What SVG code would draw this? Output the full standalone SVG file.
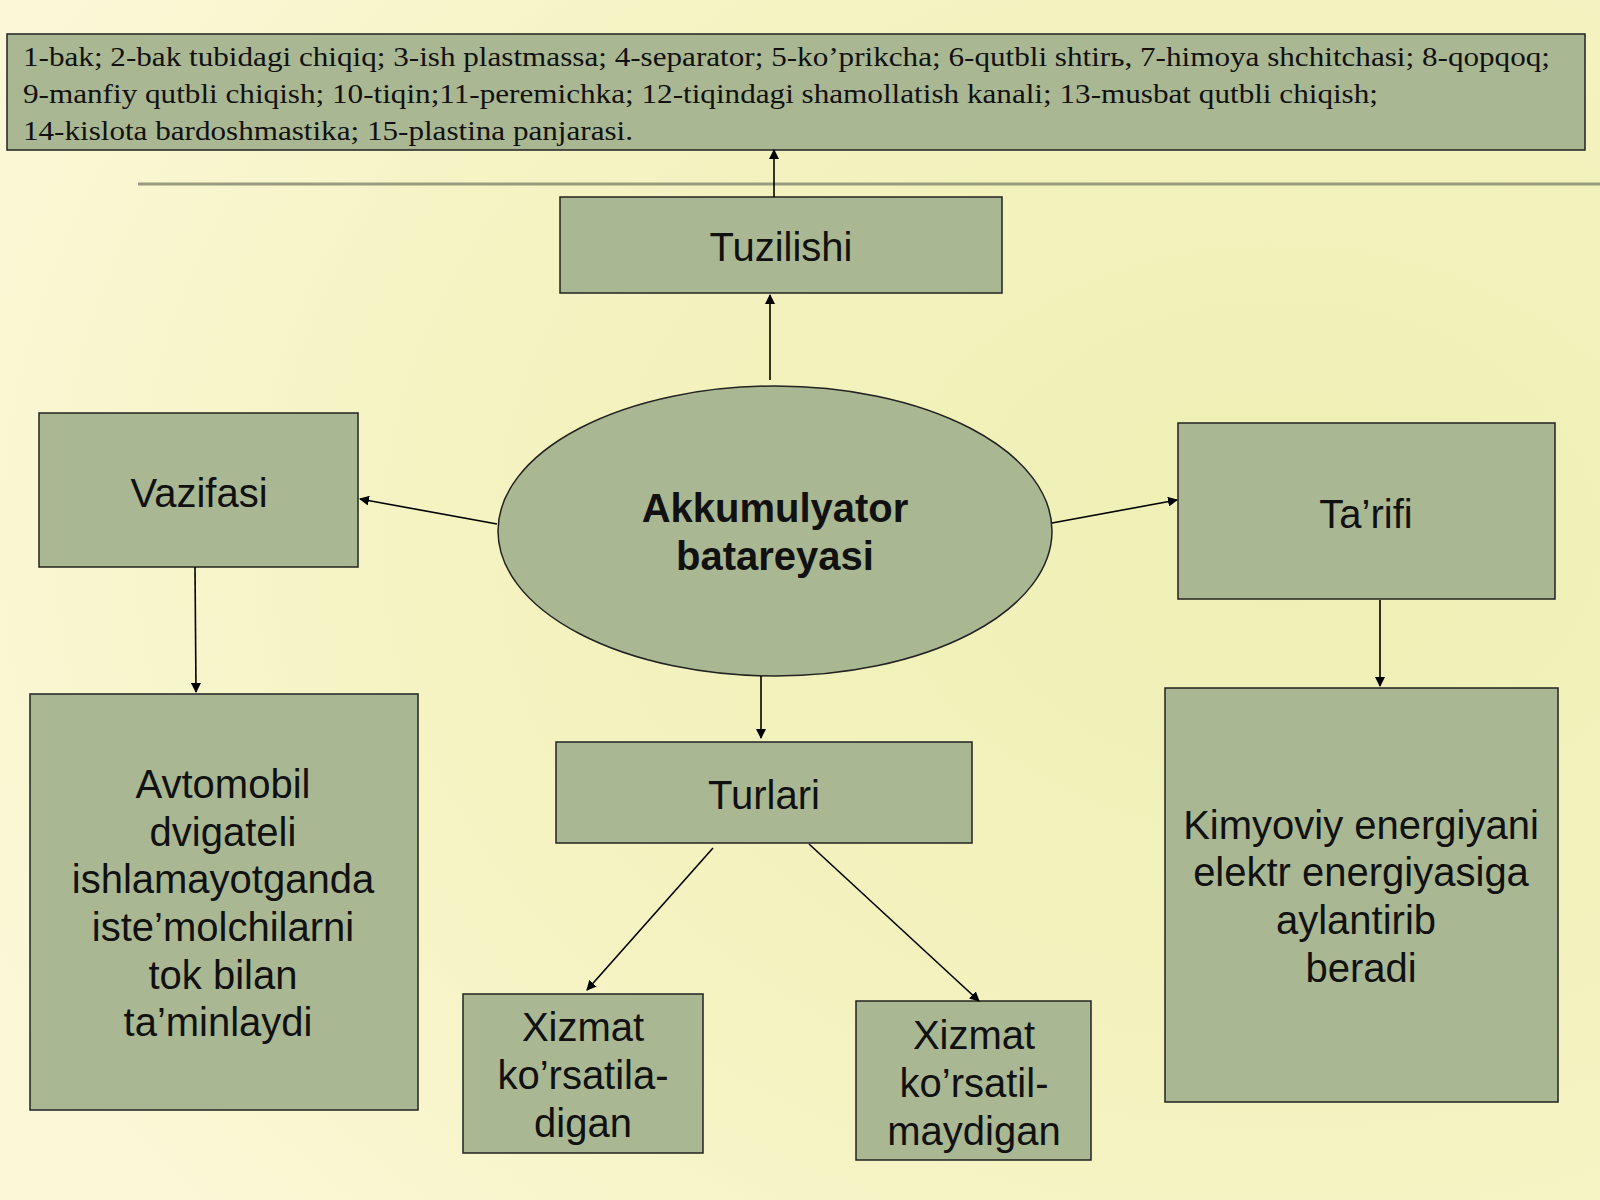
<svg xmlns="http://www.w3.org/2000/svg" width="1600" height="1200" viewBox="0 0 1600 1200">
<defs>
<radialGradient id="bg" cx="0.8" cy="0.45" r="0.9">
<stop offset="0" stop-color="#eef0b4"/><stop offset="0.6" stop-color="#f5f3c2"/><stop offset="1" stop-color="#fbf8d8"/>
</radialGradient>
<marker id="ah" markerWidth="10" markerHeight="10" refX="9" refY="5" orient="auto" markerUnits="userSpaceOnUse" viewBox="0 0 10 10"><path d="M0,0 L10,5 L0,10 z" fill="#000"/></marker>
<style>
.n{fill:#a9b893;stroke:#222;stroke-width:1.5}
.t{font-family:"Liberation Sans",Arial,sans-serif;font-size:40px;fill:#111;text-anchor:middle}
.c line{stroke:#000;stroke-width:1.6;marker-end:url(#ah)}
</style>
</defs>
<rect width="1600" height="1200" fill="url(#bg)"/>
<line x1="138" y1="184" x2="1600" y2="184" stroke="#9a9a80" stroke-width="3"/>
<g id="top"><rect class="n" x="7" y="34" width="1578" height="116"/>
<text font-family="Liberation Serif,serif" font-size="28" fill="#111"><tspan x="23" y="66" textLength="1527" lengthAdjust="spacingAndGlyphs">1-bak; 2-bak tubidagi chiqiq; 3-ish plastmassa; 4-separator; 5-ko’prikcha; 6-qutbli shtirь, 7-himoya shchitchasi; 8-qopqoq;</tspan><tspan x="23" y="103" textLength="1355" lengthAdjust="spacingAndGlyphs">9-manfiy qutbli chiqish; 10-tiqin;11-peremichka; 12-tiqindagi shamollatish kanali; 13-musbat qutbli chiqish;</tspan><tspan x="23" y="140" textLength="610" lengthAdjust="spacingAndGlyphs">14-kislota bardoshmastika; 15-plastina panjarasi.</tspan></text></g>
<g id="tuzilishi"><rect class="n" x="560" y="197" width="442" height="96"/><text class="t" x="781" y="261">Tuzilishi</text></g>
<g id="center"><ellipse class="n" cx="775" cy="531" rx="277" ry="145"/><text class="t" font-weight="bold" font-size="38" x="775" y="522">Akkumulyator</text><text class="t" font-weight="bold" font-size="38" x="775" y="570">batareyasi</text></g>
<g id="vazifasi"><rect class="n" x="39" y="413" width="319" height="154"/><text class="t" x="199" y="507">Vazifasi</text></g>
<g id="tarifi"><rect class="n" x="1178" y="423" width="377" height="176"/><text class="t" x="1366" y="528">Ta’rifi</text></g>
<g id="turlari"><rect class="n" x="556" y="742" width="416" height="101"/><text class="t" x="764" y="809">Turlari</text></g>
<g id="vazifa-text"><rect class="n" x="30" y="694" width="388" height="416"/><text class="t"><tspan x="223" y="798">Avtomobil</tspan><tspan x="223" y="846">dvigateli</tspan><tspan x="223" y="893">ishlamayotganda</tspan><tspan x="223" y="941">iste’molchilarni</tspan><tspan x="223" y="989">tok bilan</tspan><tspan x="218" y="1036">ta’minlaydi</tspan></text></g>
<g id="xizmat1"><rect class="n" x="463" y="994" width="240" height="159"/><text class="t"><tspan x="583" y="1041">Xizmat</tspan><tspan x="583" y="1089">ko’rsatila-</tspan><tspan x="583" y="1137">digan</tspan></text></g>
<g id="xizmat2"><rect class="n" x="856" y="1001" width="235" height="159"/><text class="t"><tspan x="974" y="1049">Xizmat</tspan><tspan x="974" y="1097">ko’rsatil-</tspan><tspan x="974" y="1145">maydigan</tspan></text></g>
<g id="tarif-text"><rect class="n" x="1165" y="688" width="393" height="414"/><text class="t"><tspan x="1361" y="839">Kimyoviy energiyani</tspan><tspan x="1361" y="886">elektr energiyasiga</tspan><tspan x="1356" y="934">aylantirib</tspan><tspan x="1361" y="982">beradi</tspan></text></g>
<g class="c" id="connectors">
<line x1="774" y1="197" x2="774" y2="150"/>
<line x1="770" y1="380" x2="770" y2="295"/>
<line x1="497" y1="524" x2="360" y2="499"/>
<line x1="1052" y1="523" x2="1177" y2="500"/>
<line x1="761" y1="676" x2="761" y2="738"/>
<line x1="195" y1="567" x2="196" y2="692"/>
<line x1="1380" y1="600" x2="1380" y2="686"/>
<line x1="713" y1="848" x2="587" y2="990"/>
<line x1="809" y1="844" x2="979" y2="1001"/>
</g>
</svg>
